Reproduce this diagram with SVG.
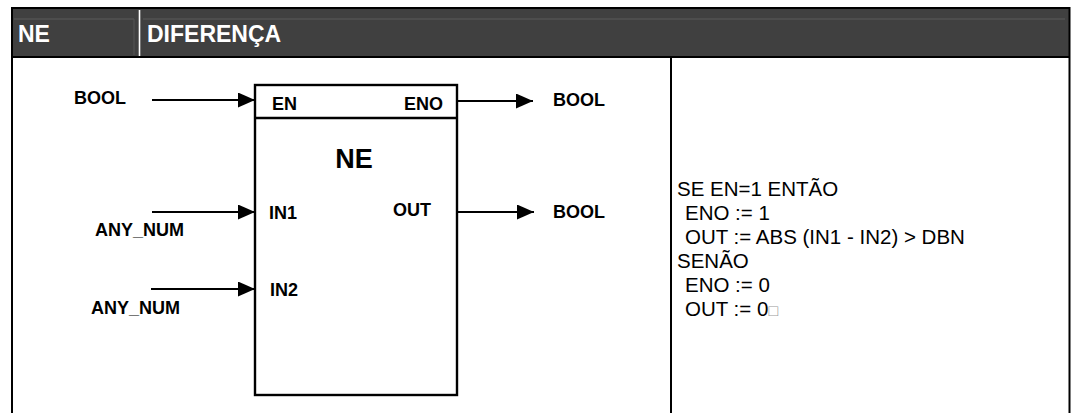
<svg xmlns="http://www.w3.org/2000/svg" width="1074" height="413" viewBox="0 0 1074 413">
<style>
.hdr{font-family:"Liberation Sans",Arial,sans-serif;font-weight:bold;font-size:23px;fill:#ffffff}
.lbl{font-family:"Liberation Sans",Arial,sans-serif;font-weight:bold;font-size:18px;fill:#000}
.ttl{font-family:"Liberation Sans",Arial,sans-serif;font-weight:bold;font-size:27px;fill:#000}
.code{font-family:"Liberation Sans",Arial,sans-serif;font-size:20.5px;fill:#000}
.frame{stroke:#000;stroke-width:2;fill:none}
.conn{stroke:#000;stroke-width:2.2;fill:none}
</style>
<defs>
<marker id="arr" markerUnits="userSpaceOnUse" markerWidth="18" markerHeight="16" refX="17" refY="7.5" orient="auto">
<path d="M0,0 L17,7.5 L0,15 z" fill="#000"/>
</marker>
</defs>
<rect width="1074" height="413" fill="#fff"/>
<g id="header">
<rect x="12" y="8" width="1058" height="49" fill="#404040"/>
<line x1="14" y1="19" x2="134" y2="19" stroke="#5a5a5a" stroke-width="1"/>
<line x1="143" y1="19" x2="1065" y2="19" stroke="#5a5a5a" stroke-width="1"/>
<line x1="134" y1="19" x2="134" y2="55" stroke="#555" stroke-width="1"/>
<line x1="139.5" y1="10" x2="139.5" y2="57" stroke="#fff" stroke-width="1.6"/>
<text class="hdr" x="18" y="42">NE</text>
<text class="hdr" x="147" y="42">DIFERENÇA</text>
</g>
<g id="table-frame">
<line class="frame" x1="12" y1="8" x2="1070" y2="8"/>
<line class="frame" x1="12" y1="7" x2="12" y2="413"/>
<line class="frame" x1="1069.5" y1="7" x2="1069.5" y2="413"/>
<line class="frame" x1="12" y1="57" x2="1070" y2="57"/>
<line class="frame" x1="671" y1="57" x2="671" y2="413"/>
</g>
<g id="block-NE">
<rect x="255" y="85" width="202" height="310" fill="#fff" stroke="#000" stroke-width="2.4"/>
<line x1="255" y1="118" x2="457" y2="118" stroke="#000" stroke-width="2.4"/>
<text class="ttl" x="354" y="168" text-anchor="middle">NE</text>
<text class="lbl" x="272" y="110">EN</text>
<text class="lbl" x="443" y="110" text-anchor="end">ENO</text>
<text class="lbl" x="269" y="219">IN1</text>
<text class="lbl" x="270" y="296">IN2</text>
<text class="lbl" x="393" y="216">OUT</text>
</g>
<g id="labels">
<text class="lbl" x="74" y="104">BOOL</text>
<text class="lbl" x="553" y="106">BOOL</text>
<text class="lbl" x="553" y="218">BOOL</text>
<text class="lbl" x="95" y="236">ANY_NUM</text>
<text class="lbl" x="91" y="314">ANY_NUM</text>
</g>
<g id="connectors">
<line class="conn" x1="152" y1="100" x2="255" y2="100" marker-end="url(#arr)"/>
<line class="conn" x1="457" y1="101" x2="533" y2="101" marker-end="url(#arr)"/>
<line class="conn" x1="152" y1="212" x2="255" y2="212" marker-end="url(#arr)"/>
<line class="conn" x1="151" y1="289" x2="255" y2="289" marker-end="url(#arr)"/>
<line class="conn" x1="457" y1="212" x2="534" y2="212" marker-end="url(#arr)"/>
</g>
<g id="description">
<text class="code" x="677" y="196">SE EN=1 ENTÃO</text>
<text class="code" x="685" y="220">ENO := 1</text>
<text class="code" x="685" y="244">OUT := ABS (IN1 - IN2) &gt; DBN</text>
<text class="code" x="677" y="268">SENÃO</text>
<text class="code" x="685" y="292">ENO := 0</text>
<text class="code" x="685" y="316">OUT := 0<tspan fill="#999" font-size="16">□</tspan></text>
</g>
</svg>
